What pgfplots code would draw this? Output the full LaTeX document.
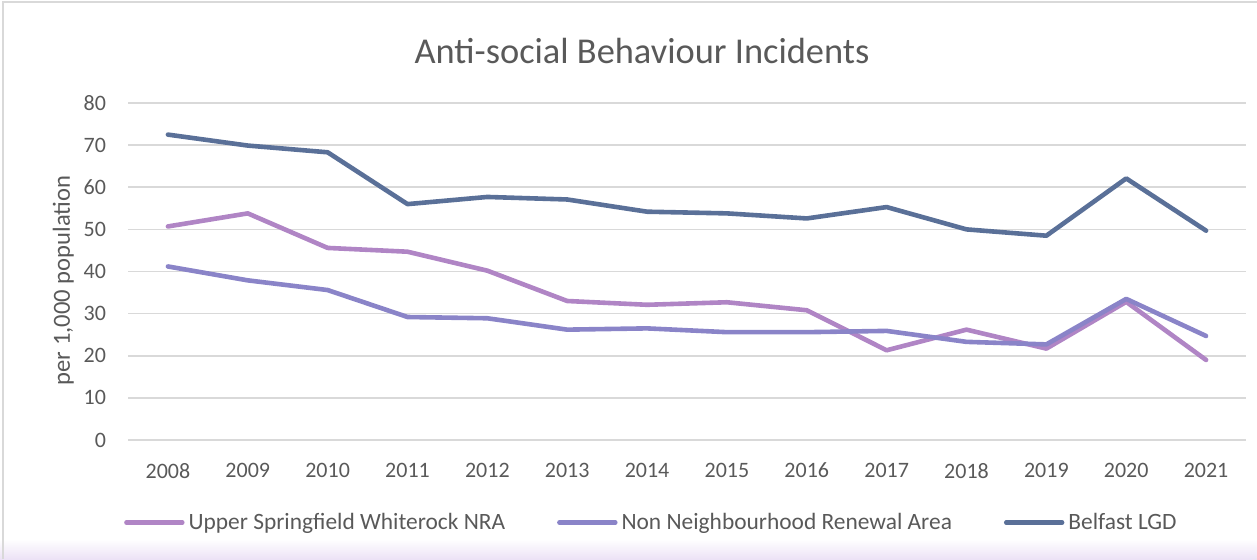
\documentclass[border=0pt]{standalone}
\usepackage{pgfplots}
\pgfplotsset{compat=1.18}
\usepackage{fontspec}
\setmainfont{Carlito}
\definecolor{upper}{RGB}{176,133,197}
\definecolor{nonnra}{RGB}{138,132,200}
\definecolor{belfast}{RGB}{90,112,152}
\definecolor{txt}{RGB}{89,89,89}
\definecolor{gridc}{RGB}{217,217,217}
\begin{document}
\begin{tikzpicture}
\useasboundingbox (0,0) rectangle (628.5pt,279.5pt);
\shade[top color=white, bottom color={rgb,255:red,236;green,226;blue,246}] (0,0) rectangle (628.5pt,10pt);
\draw[gridc, line width=0.8pt] (1.5pt,0) -- (1.5pt,278.5pt) -- (628.5pt,278.5pt);
\node[text=txt, font=\fontsize{18.2}{20}\selectfont] at (321pt,254pt) {Anti-social Behaviour Incidents};
\begin{axis}[
  at={(64pt,59.5pt)}, anchor=south west,
  scale only axis, width=559pt, height=168.5pt,
  xmin=-0.5, xmax=13.5, ymin=0, ymax=80,
  xtick={0,...,13},
  xticklabels={2008,2009,2010,2011,2012,2013,2014,2015,2016,2017,2018,2019,2020,2021},
  ytick={0,10,...,80},
  axis line style={draw=none},
  tick style={draw=none},
  ymajorgrids=true, xmajorgrids=false,
  major grid style={draw=gridc, line width=0.8pt},
  ticklabel style={text=txt, font=\fontsize{11}{13}\selectfont},
  /pgf/number format/assume math mode=true,
  yticklabel style={xshift=-7.5pt},
  xticklabel style={yshift=-8pt},
  ylabel={per 1,000 population},
  ylabel style={text=txt, font=\fontsize{12.3}{14}\selectfont, yshift=-2pt, xshift=-4.5pt},
  legend style={at={(0.469,-0.245)}, anchor=center, draw=none, fill=none,
    legend columns=3, font=\fontsize{11.7}{14}\selectfont, text=txt,
    /tikz/every even column/.append style={column sep=24pt},
    inner sep=0pt},
  legend cell align=left,
  legend image code/.code={\draw[line width=2.2pt, line cap=round] (0pt,0pt) -- (28pt,0pt);},
  every axis plot/.append style={line width=2.3pt, line join=round, line cap=round, mark=none},
]
\addplot[upper] coordinates {(0,50.7)(1,53.8)(2,45.6)(3,44.7)(4,40.2)(5,33.0)(6,32.1)(7,32.7)(8,30.8)(9,21.3)(10,26.2)(11,21.7)(12,32.8)(13,19.0)};
\addlegendentry{Upper Springfield Whiterock NRA}
\addplot[nonnra] coordinates {(0,41.2)(1,37.9)(2,35.6)(3,29.2)(4,28.9)(5,26.2)(6,26.5)(7,25.6)(8,25.6)(9,25.9)(10,23.3)(11,22.7)(12,33.5)(13,24.7)};
\addlegendentry{Non Neighbourhood Renewal Area}
\addplot[belfast] coordinates {(0,72.5)(1,69.9)(2,68.3)(3,56.0)(4,57.7)(5,57.1)(6,54.2)(7,53.8)(8,52.6)(9,55.3)(10,50.0)(11,48.5)(12,62.1)(13,49.7)};
\addlegendentry{Belfast LGD}
\end{axis}
\end{tikzpicture}
\end{document}
